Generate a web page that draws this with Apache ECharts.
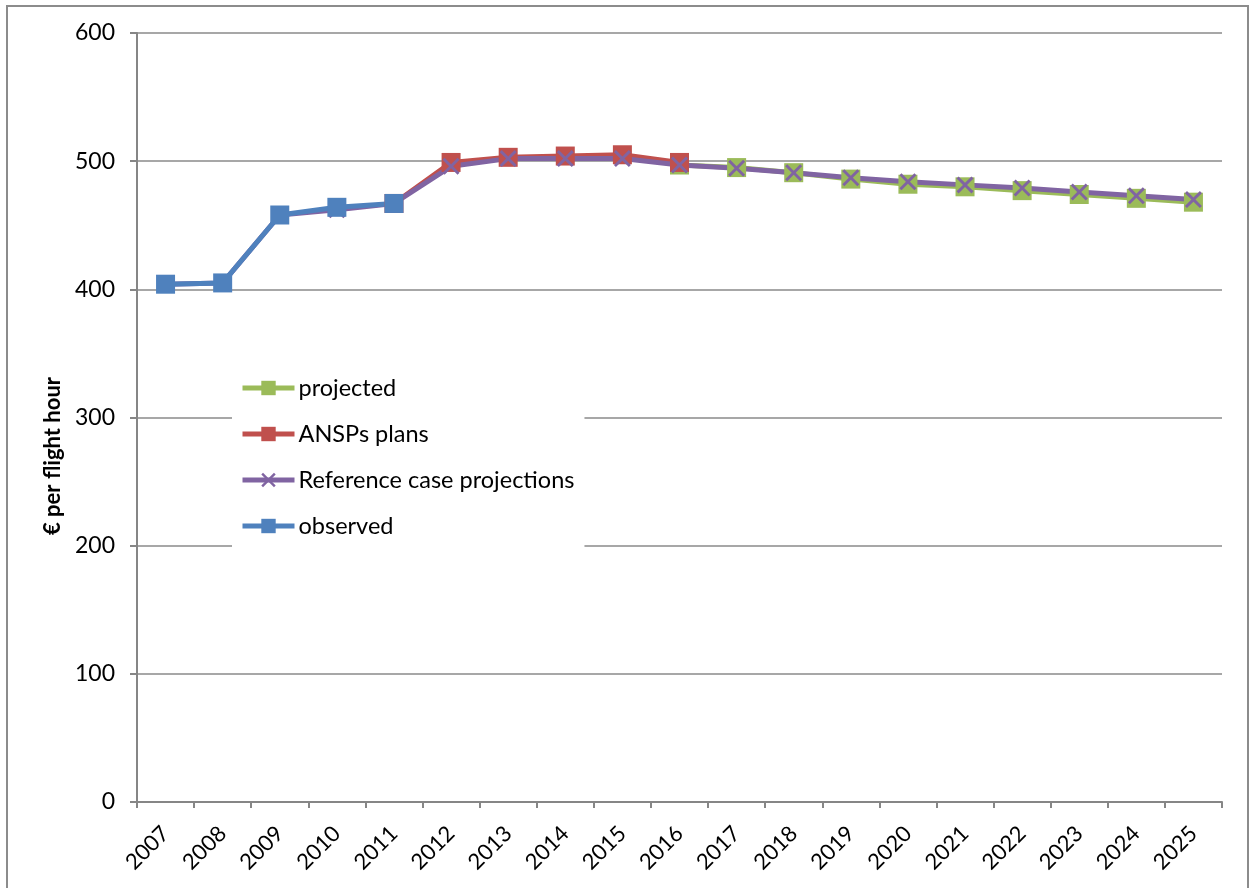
<!DOCTYPE html>
<html>
<head>
<meta charset="utf-8">
<script src="https://cdn.jsdelivr.net/npm/echarts@6/dist/echarts.min.js"></script>
<style>
  html, body { margin: 0; padding: 0; background: #fff; }
  #chart { width: 1253px; height: 888px; }
</style>
</head>
<body>
<div id="chart"></div>
<script>
// Unit cost in € per flight hour, 2007–2025
const years = ['2007','2008','2009','2010','2011','2012','2013','2014','2015','2016',
               '2017','2018','2019','2020','2021','2022','2023','2024','2025'];

const projected = [null, null, null, null, null, null, null, null, null, 497,
                   495, 491, 486, 482, 480, 477, 474, 471, 468];

const ansPlans = [null, null, null, null, 467, 499, 503, 504, 505, 499,
                  null, null, null, null, null, null, null, null, null];

const referenceCase = [404, 405, 458, 462, 467, 496, 502, 502, 502, 497,
                       494.5, 491, 487, 484, 481.5, 479, 476, 473, 470];

const observed = [404, 405, 458, 464, 467, null, null, null, null, null,
                  null, null, null, null, null, null, null, null, null];

const yTicks = { min: 0, max: 600, interval: 100 };

const FONT = 'Lato';
const crossPath = 'path://M0,1.2 L1.2,0 L5,3.8 L8.8,0 L10,1.2 L6.2,5 L10,8.8 L8.8,10 L5,6.2 L1.2,10 L0,8.8 L3.8,5 Z';

function lineSeries(name, data, color, symbol, symbolSize) {
  return {
    name: name,
    type: 'line',
    data: data,
    connectNulls: false,
    symbol: symbol,
    symbolSize: symbolSize,
    showAllSymbol: true,
    lineStyle: { color: color, width: 5 },
    itemStyle: { color: color },
    emphasis: { disabled: true },
    animation: false
  };
}

const chart = echarts.init(document.getElementById('chart'), null, { renderer: 'canvas' });

chart.setOption({
  backgroundColor: '#fff',
  animation: false,
  grid: { left: 137, right: 31, top: 33, bottom: 86, containLabel: false },
  graphic: [{
    type: 'rect',
    shape: { x: 7, y: 6, width: 1241, height: 900 },
    style: { fill: 'none', stroke: '#8c8c8c', lineWidth: 2 },
    silent: true,
    z: -1
  }],
  legend: {
    orient: 'vertical',
    left: 232,
    top: 364,
    padding: [12, 10, 14, 8],
    backgroundColor: '#fff',
    itemWidth: 52,
    itemHeight: 18,
    itemGap: 22,
    lineStyle: { width: 5 },
    textStyle: { fontFamily: FONT, fontSize: 23.5, color: '#000', padding: [0, 0, 0, -1] },
    data: ['projected', 'ANSPs plans', 'Reference case projections', 'observed']
  },
  xAxis: {
    type: 'category',
    data: years,
    boundaryGap: true,
    axisLine: { lineStyle: { color: '#868686', width: 2 } },
    axisTick: { show: true, alignWithLabel: false, length: 6, lineStyle: { color: '#868686', width: 2 } },
    axisLabel: { rotate: 45, margin: 28, fontFamily: FONT, fontSize: 22, color: '#000', interval: 0 },
    splitLine: { show: false }
  },
  yAxis: {
    type: 'value',
    min: yTicks.min,
    max: yTicks.max,
    interval: yTicks.interval,
    name: '€ per flight hour',
    nameLocation: 'middle',
    nameRotate: 90,
    nameGap: 65,
    nameTextStyle: { fontFamily: FONT, fontSize: 22, fontWeight: 'bold', color: '#000', padding: [0, 0, 0, -77] },
    axisLine: { show: true, lineStyle: { color: '#868686', width: 2 } },
    axisTick: { show: true, inside: false, length: 7, lineStyle: { color: '#868686', width: 2 } },
    axisLabel: { margin: 22, fontFamily: FONT, fontSize: 23, color: '#000' },
    splitLine: { show: true, lineStyle: { color: '#8a8a8a', width: 1.5 } }
  },
  series: [
    lineSeries('projected', projected, '#9BBB59', 'rect', 19),
    lineSeries('ANSPs plans', ansPlans, '#C0504D', 'rect', 19),
    lineSeries('Reference case projections', referenceCase, '#8064A2', crossPath, 17),
    lineSeries('observed', observed, '#4F81BD', 'rect', 19)
  ]
});
</script>
</body>
</html>
